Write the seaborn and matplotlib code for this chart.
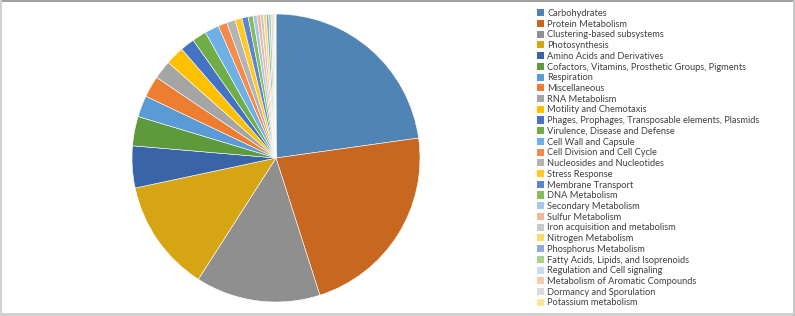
import matplotlib
matplotlib.use("Agg")
import matplotlib.pyplot as plt
from matplotlib.patches import Rectangle, Patch
import seaborn as sns

categories = [
    "Carbohydrates", "Protein Metabolism", "Clustering-based subsystems", "Photosynthesis",
    "Amino Acids and Derivatives", "Cofactors, Vitamins, Prosthetic Groups, Pigments",
    "Respiration", "Miscellaneous", "RNA Metabolism", "Motility and Chemotaxis",
    "Phages, Prophages, Transposable elements, Plasmids", "Virulence, Disease and Defense",
    "Cell Wall and Capsule", "Cell Division and Cell Cycle", "Nucleosides and Nucleotides",
    "Stress Response", "Membrane Transport", "DNA Metabolism", "Secondary Metabolism",
    "Sulfur Metabolism", "Iron acquisition and metabolism", "Nitrogen Metabolism",
    "Phosphorus Metabolism", "Fatty Acids, Lipids, and Isoprenoids",
    "Regulation and Cell signaling", "Metabolism of Aromatic Compounds",
    "Dormancy and Sporulation", "Potassium metabolism",
]
values = [22.8, 22.3, 14.0, 12.6, 4.7, 3.3, 2.4, 2.4, 2.1, 2.1, 1.6, 1.6, 1.6, 1.0,
          0.95, 0.8, 0.7, 0.55, 0.44, 0.39, 0.33, 0.31, 0.28, 0.25, 0.22, 0.17, 0.11, 0.06]
colors = [
    "#4f84b5", "#c8671f", "#8f8f8f", "#d6a514", "#3a64a8", "#5e9a3b",
    "#5b9bd5", "#ed7d31", "#a5a5a5", "#ffc000", "#4472c4", "#70ad47",
    "#6eb0e6", "#f48a4c", "#b4b4b4", "#ffc928", "#5b85cf", "#84bc5f",
    "#a6c8e8", "#f4b59a", "#c9c9c9", "#ffd966", "#8faadc", "#a9d18e",
    "#c7dcef", "#f8cbad", "#dbdbdb", "#ffe699",
]

sns.set_theme(style="white")
plt.rcParams["font.family"] = ["Lato", "DejaVu Sans"]
palette = sns.color_palette(colors)

fig = plt.figure(figsize=(7.95, 3.16), dpi=100)
W, H = 795, 316
cx, cy, r = 276, 158, 144
ax = fig.add_axes([(cx - r) / W, (H - cy - r) / H, 2 * r / W, 2 * r / H])
ax.pie(values, colors=palette, startangle=90, counterclock=False, radius=1,
       wedgeprops=dict(edgecolor="white", linewidth=0.4))
ax.set_xlim(-1, 1)
ax.set_ylim(-1, 1)
ax.set_aspect("equal")
ax.axis("off")

handles = [Patch(facecolor=c, edgecolor="none") for c in palette]
fig.legend(handles, categories, loc="upper left", bbox_to_anchor=(537 / W, 1 - 9 / H),
           frameon=False, fontsize=6.7, handlelength=0.8, handleheight=0.8,
           handletextpad=0.3, labelspacing=0.185, borderaxespad=0, borderpad=0,
           labelcolor="#404040")

# outer frame
fig.add_artist(Rectangle((0, 1 - 2 / H), 1, 2 / H, transform=fig.transFigure, color="#a0a0a0", lw=0))
fig.add_artist(Rectangle((0, 0), 2 / W, 1, transform=fig.transFigure, color="#d0d0d0", lw=0))
fig.add_artist(Rectangle((0, 0), 1, 3 / H, transform=fig.transFigure, color="#d0d0d0", lw=0))
fig.add_artist(Rectangle((1 - 2 / W, 0), 2 / W, 1, transform=fig.transFigure, color="#c8c8c8", lw=0))

fig.savefig("out.png", dpi=100)
